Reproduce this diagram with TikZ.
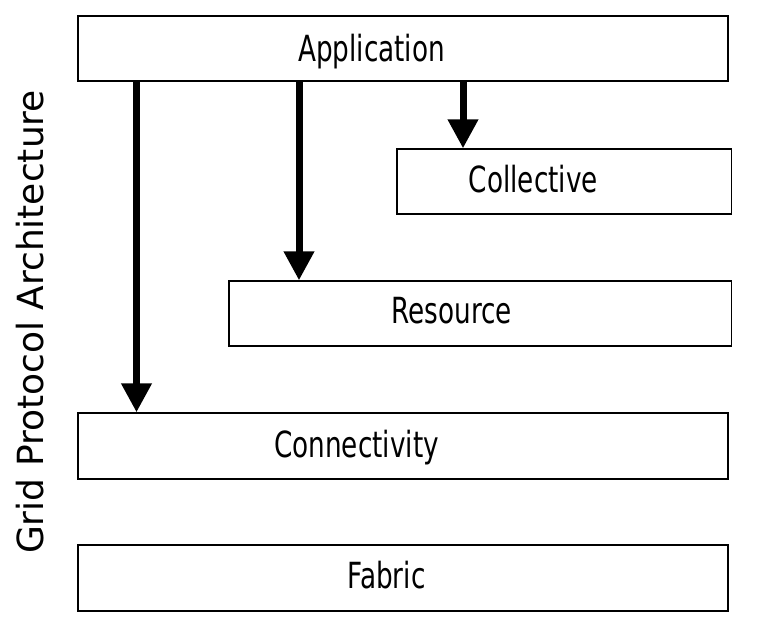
\documentclass[tikz,border=0pt]{standalone}
\usepackage{fontspec}
\usepackage{graphicx}
\setmainfont{DejaVu Sans}
\usetikzlibrary{arrows.meta}
\newcommand{\sq}[1]{\scalebox{0.73}[1]{#1}}
\tikzset{
  layer/.style={draw=black, line width=1.3pt, minimum height=65pt, inner sep=0pt, anchor=center},
  lbl/.style={font=\fontsize{36}{40}\selectfont, inner sep=0pt, anchor=base},
  arr/.style={line width=7pt, -{Triangle[length=29pt,width=29pt]}},
}
\begin{document}
\begin{tikzpicture}[x=1pt,y=-1pt]
\useasboundingbox (0,0) rectangle (768,623);
\node[layer, minimum width=650pt] (app) at (403,48.5) {};
\node[lbl] (appt) at (371.5,61.7) {\sq{Application}};
\node[layer, minimum width=334.5pt] (col) at (564.25,181.5) {};
\node[lbl] (colt) at (533.3,192.7) {\sq{Collective}};
\node[layer, minimum width=502.5pt] (res) at (480.25,313.5) {};
\node[lbl] (rest) at (451.7,323.3) {\sq{Resource}};
\node[layer, minimum width=650pt, minimum height=66pt] (con) at (403,446) {};
\node[lbl] (cont) at (356.5,457.3) {\sq{Connectivity}};
\node[layer, minimum width=650pt, minimum height=66pt] (fab) at (403,578) {};
\node[lbl] (fabt) at (386.5,588.3) {\sq{Fabric}};
\node[lbl, anchor=center, rotate=90] (side) at (30.5,322) {Grid Protocol Architecture};
\coordinate (a1) at (136.5,0);
\coordinate (a2) at (299,0);
\coordinate (a3) at (463,0);
\draw[arr] (app.south -| a1) -- (con.north -| a1);
\draw[arr] (app.south -| a2) -- (res.north -| a2);
\draw[arr] (app.south -| a3) -- (col.north -| a3);
\end{tikzpicture}
\end{document}
